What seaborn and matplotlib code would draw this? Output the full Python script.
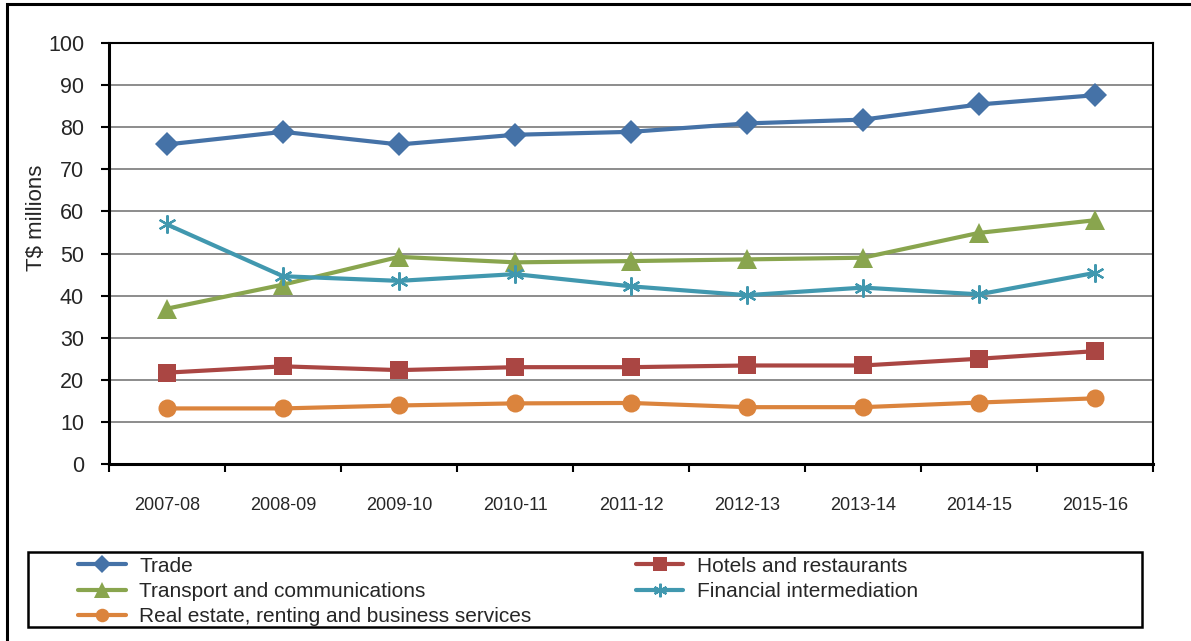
import numpy as np
import pandas as pd
import matplotlib
matplotlib.use("Agg")
import matplotlib.pyplot as plt
from matplotlib.patches import Rectangle
import seaborn as sns

# Financial years on the x axis
years = ["2007-08", "2008-09", "2009-10", "2010-11", "2011-12",
         "2012-13", "2013-14", "2014-15", "2015-16"]

# Sector output, T$ millions
trade = [75.9, 78.9, 75.9, 78.2, 78.9, 80.9, 81.8, 85.4, 87.6]
hotels = [21.7, 23.2, 22.3, 23.0, 23.0, 23.4, 23.4, 25.0, 26.8]
transport = [36.9, 42.6, 49.2, 47.9, 48.2, 48.6, 49.0, 54.9, 57.9]
financial = [56.9, 44.6, 43.5, 45.1, 42.2, 40.1, 41.9, 40.3, 45.4]
real_estate = [13.2, 13.2, 13.9, 14.4, 14.5, 13.5, 13.5, 14.6, 15.6]

series_names = ["Trade", "Hotels and restaurants", "Transport and communications",
                "Financial intermediation", "Real estate, renting and business services"]
series_values = [trade, hotels, transport, financial, real_estate]

colors = {
    "Trade": "#4572A7",
    "Hotels and restaurants": "#AA4643",
    "Transport and communications": "#89A54E",
    "Financial intermediation": "#4198AF",
    "Real estate, renting and business services": "#DB843D",
}
markers = {
    "Trade": "D",
    "Hotels and restaurants": "s",
    "Transport and communications": "^",
    "Financial intermediation": (6, 2, 0),
    "Real estate, renting and business services": "o",
}
msizes = {
    "Trade": 12,
    "Hotels and restaurants": 12.5,
    "Transport and communications": 15,
    "Financial intermediation": 13,
    "Real estate, renting and business services": 13,
}

rows = []
for name, vals in zip(series_names, series_values):
    for i, (yr, v) in enumerate(zip(years, vals)):
        rows.append({"pos": i, "year": yr, "sector": name, "value": v})
df = pd.DataFrame(rows)

sns.set_theme(style="white")
plt.rcParams["font.family"] = ["Liberation Sans", "DejaVu Sans"]

W, H = 1191, 641
fig = plt.figure(figsize=(W / 100, H / 100), dpi=100)
fig.patch.set_facecolor("white")

# plot area in pixel terms
left, right, top, bottom = 109, 1153, 43, 464
ax = fig.add_axes([left / W, 1 - bottom / H, (right - left) / W, (bottom - top) / H])

handles = {}
for name in series_names:
    sub = df[df["sector"] == name]
    mk = markers[name]
    is_star = isinstance(mk, tuple)
    sns.lineplot(data=sub, x="pos", y="value", ax=ax, color=colors[name],
                 linewidth=3.0, marker=mk, markersize=msizes[name],
                 markeredgewidth=1.6 if is_star else 0,
                 markeredgecolor=colors[name],
                 markerfacecolor=colors[name], label=name, legend=False, zorder=3)
    handles[name] = ax.lines[-1]

ax.set_xlim(-0.5, len(years) - 0.5)
ax.set_ylim(0, 100)
ax.set_yticks(np.arange(0, 101, 10))
ax.set_yticklabels([str(v) for v in range(0, 101, 10)], fontsize=15.5)
ax.yaxis.grid(True, color="#8c8c8c", linewidth=1.4)
ax.set_axisbelow(True)

# tick marks at category boundaries, labels at category centres
ax.set_xticks(np.arange(-0.5, len(years), 1.0))
ax.set_xticklabels([])
ax.set_xticks(np.arange(len(years)), minor=True)
ax.set_xticklabels(years, minor=True, fontsize=13)
ax.tick_params(axis="x", which="major", direction="out", length=6, width=1.5,
               color="black", bottom=True)
ax.tick_params(axis="x", which="minor", length=0, pad=24)
ax.tick_params(axis="y", direction="out", length=6, width=1.5, color="black",
               left=True, pad=12)
ax.set_xlabel("")
ax.set_ylabel("")

for sp in ax.spines.values():
    sp.set_visible(True)
    sp.set_color("black")
    sp.set_linewidth(1.5)
ax.spines["left"].set_linewidth(2.2)
ax.spines["bottom"].set_linewidth(2.2)

fig.text(36 / W, 1 - 218 / H, "T$ millions", rotation=90, fontsize=16,
         ha="center", va="center")

# outer chart frame
fig.add_artist(Rectangle((7 / W, -0.05), 1.2, 1 - 4 / H + 0.05,
                         transform=fig.transFigure, fill=False,
                         edgecolor="black", linewidth=2.2))

# legend frame
lx0, lx1, ly0, ly1 = 28, 1142, 552, 627
fig.add_artist(Rectangle((lx0 / W, 1 - ly1 / H), (lx1 - lx0) / W, (ly1 - ly0) / H,
                         transform=fig.transFigure, fill=False,
                         edgecolor="black", linewidth=1.8))

order = ["Trade", "Transport and communications",
         "Real estate, renting and business services",
         "Hotels and restaurants", "Financial intermediation"]
leg = fig.legend([handles[n] for n in order], order, ncol=2, frameon=False,
                 loc="upper left", bbox_to_anchor=(61 / W, 1 - 540 / H),
                 fontsize=15, handlelength=2.3, handletextpad=0.65,
                 columnspacing=5.0, labelspacing=0.3, borderpad=0.3,
                 markerscale=0.75)
for h in leg.legend_handles:
    h.set_linewidth(3.0)

fig.savefig("out.png", dpi=100, facecolor="white")
